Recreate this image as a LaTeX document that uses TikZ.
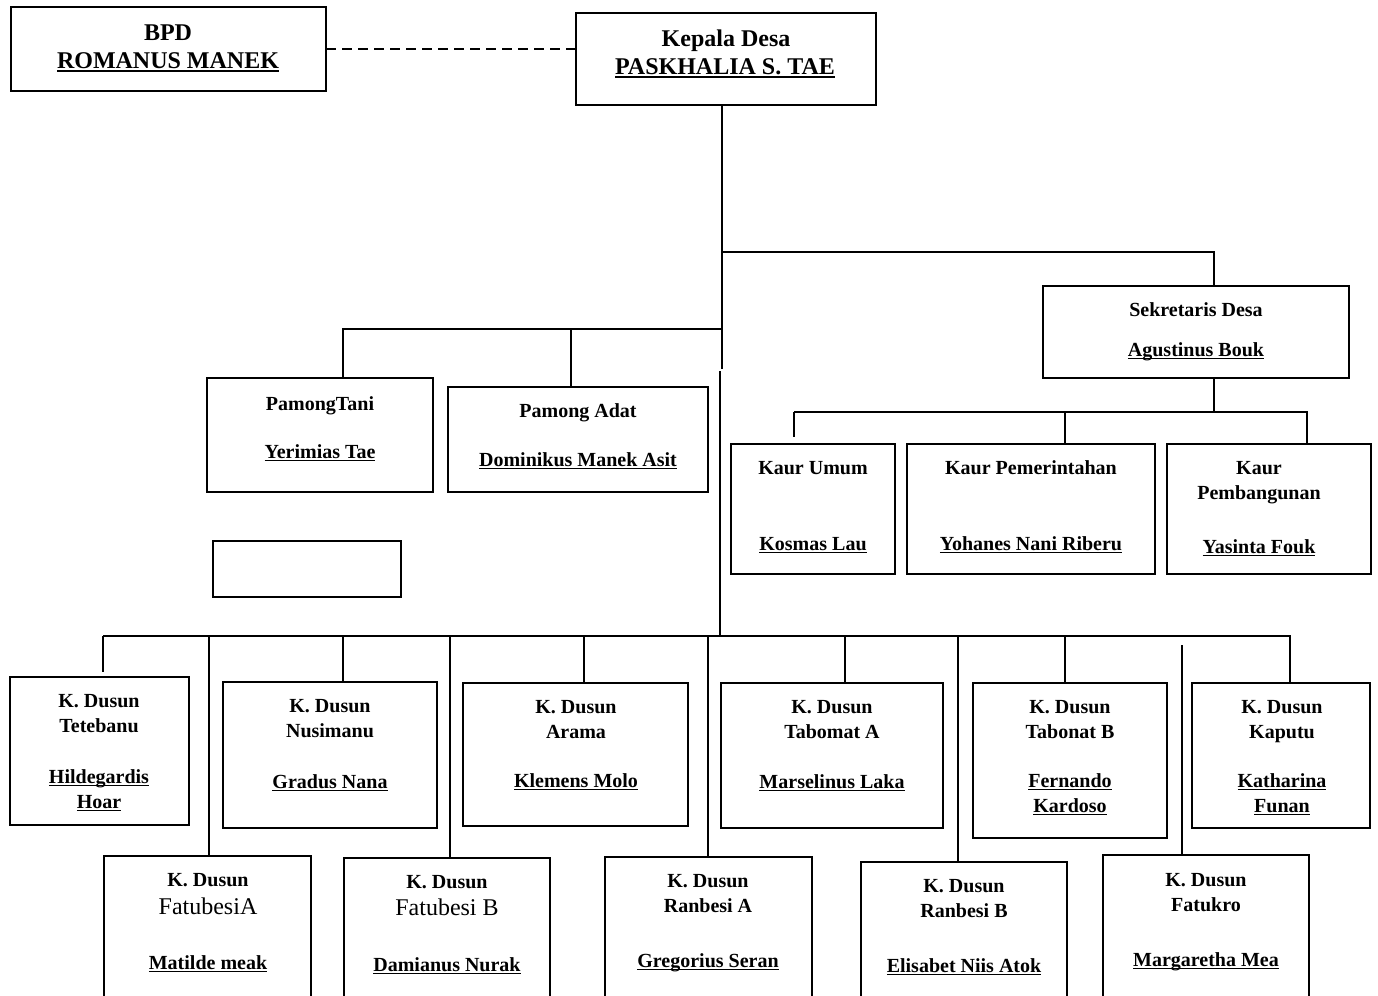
\documentclass[tikz,border=0pt]{standalone}
\usepackage{fontspec}
\setmainfont{Liberation Serif}
\newcommand{\ulx}[1]{\setbox0\hbox{#1}\dimen0=\wd0\rlap{\box0}\rule[-1.7pt]{\dimen0}{0.9pt}}
\newcommand{\ulxx}[1]{\setbox0\hbox{#1}\dimen0=\wd0\rlap{\box0}\rule[-2pt]{\dimen0}{1pt}}
\newcommand{\bx}[5]{\node[bx, minimum width={(#4-#2)*0.5pt}, minimum height={(#5-#3)*0.5pt}] (#1) at ({(#2+#4)/2},{(#3+#5)/2}) {};}
\begin{document}
\begin{tikzpicture}[x=0.5pt,y=-0.5pt,
  bx/.style={draw, line width=1.1pt, inner sep=0pt, outer sep=0pt},
  txt/.style={inner sep=0pt, anchor=base, font=\bfseries\fontsize{10}{12}\selectfont},
  bigtxt/.style={inner sep=0pt, anchor=base, font=\bfseries\fontsize{12}{14}\selectfont},
  regtxt/.style={inner sep=0pt, anchor=base, font=\fontsize{12}{14}\selectfont},
  ln/.style={line width=1pt},
  dln/.style={line width=1pt, dash pattern=on 5pt off 3pt}]
\useasboundingbox (0,0) rectangle (1378,996);
\clip (0,0) rectangle (1378,996);
% boxes
\bx{bpd}{11}{7}{326}{91}
\bx{kades}{576}{13}{876}{105}
\bx{tani}{207}{378}{433}{492}
\bx{adat}{448}{387}{708}{492}
\bx{empty}{213}{541}{401}{597}
\bx{sek}{1043}{286}{1349}{378}
\bx{kumum}{731}{444}{895}{574}
\bx{kpem}{907}{444}{1155}{574}
\bx{kpb}{1167}{444}{1371}{574}
\bx{d1}{10}{677}{189}{825}
\bx{d2}{223}{682}{437}{828}
\bx{d3}{463}{683}{688}{826}
\bx{d4}{721}{683}{943}{828}
\bx{d5}{973}{683}{1167}{838}
\bx{d6}{1192}{683}{1370}{828}
\bx{b1}{104}{856}{311}{1020}
\bx{b2}{344}{858}{550}{1020}
\bx{b3}{605}{857}{812}{1020}
\bx{b4}{861}{862}{1067}{1020}
\bx{b5}{1103}{855}{1309}{1020}
% texts
\node[bigtxt] (t-bpd1) at (168,40) {BPD};
\node[bigtxt] (t-bpd2) at (168,68) {\ulxx{ROMANUS MANEK}};
\node[bigtxt] (t-kd1) at (726,46) {Kepala Desa};
\node[bigtxt] (t-kd2) at (725,74) {\ulxx{PASKHALIA S. TAE}};
\node[txt] (t-tani1) at (320,410) {PamongTani};
\node[txt] (t-tani2) at (320,458) {\ulx{Yerimias Tae}};
\node[txt] (t-adat1) at (578,417) {Pamong Adat};
\node[txt] (t-adat2) at (578,466) {\ulx{Dominikus Manek Asit}};
\node[txt] (t-sek1) at (1196,316) {Sekretaris Desa};
\node[txt] (t-sek2) at (1196,356) {\ulx{Agustinus Bouk}};
\node[txt] (t-ku1) at (813,474) {Kaur Umum};
\node[txt] (t-ku2) at (813,550) {\ulx{Kosmas Lau}};
\node[txt] (t-kp1) at (1031,474) {Kaur Pemerintahan};
\node[txt] (t-kp2) at (1031,550) {\ulx{Yohanes Nani Riberu}};
\node[txt] (t-kb1) at (1259,474) {Kaur};
\node[txt] (t-kb2) at (1259,499) {Pembangunan};
\node[txt] (t-kb3) at (1259,553) {\ulx{Yasinta Fouk}};
% dusun top row
\node[txt] (t-d1a) at (99,707) {K. Dusun};
\node[txt] (t-d1b) at (99,732) {Tetebanu};
\node[txt] (t-d1c) at (99,783) {\ulx{Hildegardis}};
\node[txt] (t-d1d) at (99,808) {\ulx{Hoar}};
\node[txt] (t-d2a) at (330,712) {K. Dusun};
\node[txt] (t-d2b) at (330,737) {Nusimanu};
\node[txt] (t-d2c) at (330,788) {\ulx{Gradus Nana}};
\node[txt] (t-d3a) at (576,713) {K. Dusun};
\node[txt] (t-d3b) at (576,738) {Arama};
\node[txt] (t-d3c) at (576,787) {\ulx{Klemens Molo}};
\node[txt] (t-d4a) at (832,713) {K. Dusun};
\node[txt] (t-d4b) at (832,738) {Tabomat A};
\node[txt] (t-d4c) at (832,788) {\ulx{Marselinus Laka}};
\node[txt] (t-d5a) at (1070,713) {K. Dusun};
\node[txt] (t-d5b) at (1070,738) {Tabonat B};
\node[txt] (t-d5c) at (1070,787) {\ulx{Fernando}};
\node[txt] (t-d5d) at (1070,812) {\ulx{Kardoso}};
\node[txt] (t-d6a) at (1282,713) {K. Dusun};
\node[txt] (t-d6b) at (1282,738) {Kaputu};
\node[txt] (t-d6c) at (1282,787) {\ulx{Katharina}};
\node[txt] (t-d6d) at (1282,812) {\ulx{Funan}};
% dusun bottom row
\node[txt] (t-b1a) at (208,886) {K. Dusun};
\node[regtxt] (t-b1b) at (208,914) {FatubesiA};
\node[txt] (t-b1c) at (208,969) {\ulx{Matilde meak}};
\node[txt] (t-b2a) at (447,888) {K. Dusun};
\node[regtxt] (t-b2b) at (447,915) {Fatubesi B};
\node[txt] (t-b2c) at (447,971) {\ulx{Damianus Nurak}};
\node[txt] (t-b3a) at (708,887) {K. Dusun};
\node[txt] (t-b3b) at (708,912) {Ranbesi A};
\node[txt] (t-b3c) at (708,967) {\ulx{Gregorius Seran}};
\node[txt] (t-b4a) at (964,892) {K. Dusun};
\node[txt] (t-b4b) at (964,917) {Ranbesi B};
\node[txt] (t-b4c) at (964,972) {\ulx{Elisabet Niis Atok}};
\node[txt] (t-b5a) at (1206,886) {K. Dusun};
\node[txt] (t-b5b) at (1206,911) {Fatukro};
\node[txt] (t-b5c) at (1206,966) {\ulx{Margaretha Mea}};
% junction coordinates
\coordinate (j1) at (722,252);
\coordinate (j2) at (722,329);
\coordinate (j3) at (722,369);
\coordinate (j4) at (720,371);
\coordinate (j5) at (720,636);
\coordinate (js) at (1214,252);
\coordinate (jt) at (343,329);
\coordinate (ja) at (571,329);
\coordinate (jk) at (1214,412);
\coordinate (jkl) at (794,412);
\coordinate (jkm) at (1065,412);
\coordinate (jkr) at (1307,412);
\coordinate (jku) at (794,437);
\coordinate (dl) at (103,636);
\coordinate (dr) at (1290,636);
\coordinate (dle) at (103,672);
\coordinate (c2) at (343,636);
\coordinate (c3) at (584,636);
\coordinate (c4) at (845,636);
\coordinate (c5) at (1065,636);
\coordinate (e1) at (209,636);
\coordinate (e2) at (450,636);
\coordinate (e3) at (708,636);
\coordinate (e4) at (958,636);
\coordinate (e5) at (1182,645);
% connectors
\draw[dln] (bpd.east) -- (bpd.east -| kades.west);
\draw[ln] (j1 |- kades.south) -- (j3);
\draw[ln] (j4) -- (j5);
\draw[ln] (j1) -- (js) -- (js |- sek.north);
\draw[ln] (j2) -- (jt) -- (jt |- tani.north);
\draw[ln] (ja) -- (ja |- adat.north);
\draw[ln] (js |- sek.south) -- (jk);
\draw[ln] (jkl) -- (jkr) -- (jkr |- kpb.north);
\draw[ln] (jkl) -- (jku);
\draw[ln] (jkm) -- (jkm |- kpem.north);
\draw[ln] (dl) -- (dr) -- (dr |- d6.north);
\draw[ln] (dl) -- (dle);
\draw[ln] (c2) -- (c2 |- d2.north);
\draw[ln] (c3) -- (c3 |- d3.north);
\draw[ln] (c4) -- (c4 |- d4.north);
\draw[ln] (c5) -- (c5 |- d5.north);
\draw[ln] (e1) -- (e1 |- b1.north);
\draw[ln] (e2) -- (e2 |- b2.north);
\draw[ln] (e3) -- (e3 |- b3.north);
\draw[ln] (e4) -- (e4 |- b4.north);
\draw[ln] (e5) -- (e5 |- b5.north);
\end{tikzpicture}
\end{document}
